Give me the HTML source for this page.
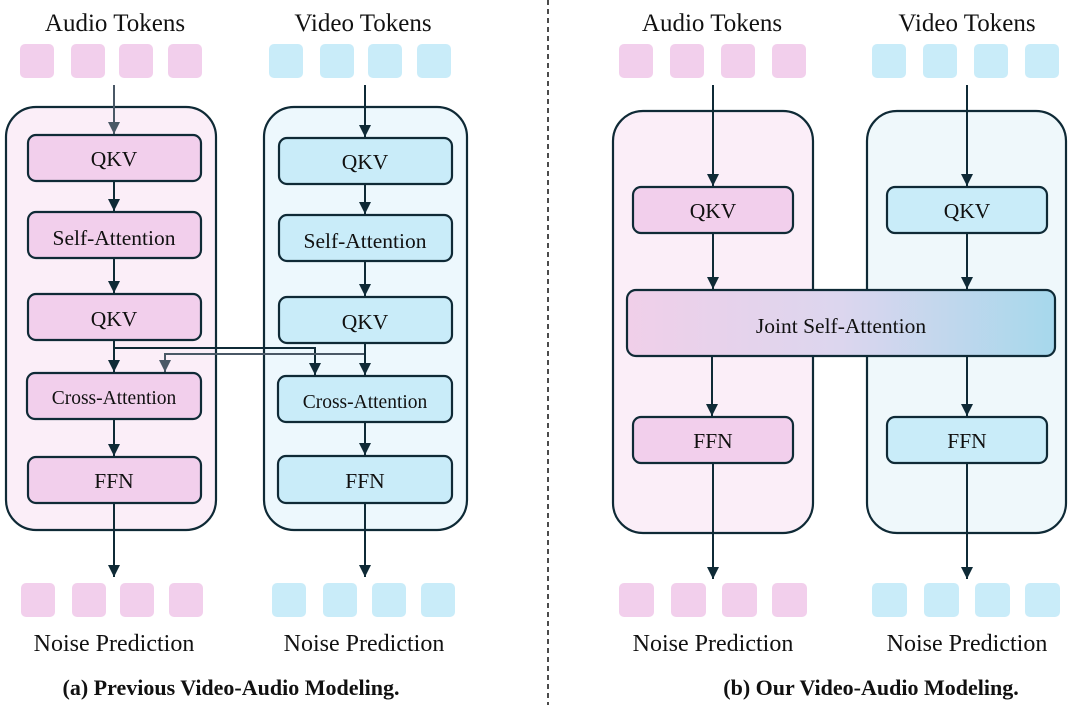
<!DOCTYPE html>
<html><head><meta charset="utf-8"><style>
html,body{margin:0;padding:0;background:#fff;}
svg{display:block;}
text{font-family:"Liberation Serif",serif;fill:#111;}
</style></head><body>
<svg width="1080" height="705" viewBox="0 0 1080 705" xmlns="http://www.w3.org/2000/svg">
<defs>
<marker id="ah" viewBox="0 0 10 10" refX="10" refY="5" markerWidth="13" markerHeight="12" orient="auto" markerUnits="userSpaceOnUse">
<path d="M0,0 L10,5 L0,10 z" fill="#0f2a36"/></marker>
<marker id="ahg" viewBox="0 0 10 10" refX="10" refY="5" markerWidth="13" markerHeight="12" orient="auto" markerUnits="userSpaceOnUse">
<path d="M0,0 L10,5 L0,10 z" fill="#4a5866"/></marker>
<linearGradient id="jg" x1="0" x2="1" y1="0" y2="0">
<stop offset="0" stop-color="#f0cfe9"/><stop offset="0.5" stop-color="#dcd6ee"/><stop offset="1" stop-color="#a6d8ec"/></linearGradient>
</defs>
<g stroke="#0f2a36" stroke-width="2.2">
<rect x="6" y="107" width="210" height="423" rx="30" fill="#fbeef8"/>
<rect x="264" y="107" width="203" height="423" rx="30" fill="#edf8fd"/>
<rect x="613" y="111" width="200" height="422" rx="30" fill="#fbeef8"/>
<rect x="867" y="111" width="199" height="422" rx="30" fill="#eff8fb"/>
</g>
<line x1="548" y1="0" x2="548" y2="705" stroke="#111" stroke-width="1.5" stroke-dasharray="5,4"/>
<g fill="#f2cfec">
<rect x="20" y="44" width="34" height="34" rx="5"/><rect x="71" y="44" width="34" height="34" rx="5"/><rect x="119" y="44" width="34" height="34" rx="5"/><rect x="168" y="44" width="34" height="34" rx="5"/>
<rect x="21" y="583" width="34" height="34" rx="5"/><rect x="72" y="583" width="34" height="34" rx="5"/><rect x="120" y="583" width="34" height="34" rx="5"/><rect x="169" y="583" width="34" height="34" rx="5"/>
<rect x="619" y="44" width="34" height="34" rx="5"/><rect x="670" y="44" width="34" height="34" rx="5"/><rect x="721" y="44" width="34" height="34" rx="5"/><rect x="772" y="44" width="34" height="34" rx="5"/>
<rect x="619" y="583" width="35" height="34" rx="5"/><rect x="671" y="583" width="35" height="34" rx="5"/><rect x="722" y="583" width="35" height="34" rx="5"/><rect x="772" y="583" width="35" height="34" rx="5"/>
</g>
<g fill="#c9ecf9">
<rect x="269" y="44" width="34" height="34" rx="5"/><rect x="320" y="44" width="34" height="34" rx="5"/><rect x="368" y="44" width="34" height="34" rx="5"/><rect x="417" y="44" width="34" height="34" rx="5"/>
<rect x="272" y="583" width="34" height="34" rx="5"/><rect x="323" y="583" width="34" height="34" rx="5"/><rect x="372" y="583" width="34" height="34" rx="5"/><rect x="421" y="583" width="34" height="34" rx="5"/>
<rect x="872" y="44" width="34" height="34" rx="5"/><rect x="923" y="44" width="34" height="34" rx="5"/><rect x="974" y="44" width="34" height="34" rx="5"/><rect x="1025" y="44" width="34" height="34" rx="5"/>
<rect x="872" y="583" width="35" height="34" rx="5"/><rect x="924" y="583" width="35" height="34" rx="5"/><rect x="975" y="583" width="35" height="34" rx="5"/><rect x="1025" y="583" width="35" height="34" rx="5"/>
</g>
<g stroke="#0f2a36" stroke-width="2" fill="none">
<line x1="114" y1="85" x2="114" y2="134" stroke="#4a5866" marker-end="url(#ahg)"/>
<line x1="114" y1="181" x2="114" y2="211" marker-end="url(#ah)"/>
<line x1="114" y1="258" x2="114" y2="293" marker-end="url(#ah)"/>
<line x1="114" y1="340" x2="114" y2="372" marker-end="url(#ah)"/>
<line x1="114" y1="419" x2="114" y2="456" marker-end="url(#ah)"/>
<line x1="114" y1="503" x2="114" y2="577" marker-end="url(#ah)"/>
<polyline points="114,348 315,348 315,375" marker-end="url(#ah)"/>
<polyline points="365,354 165,354 165,372" stroke="#4a5866" marker-end="url(#ahg)"/>
<line x1="365" y1="85" x2="365" y2="137" marker-end="url(#ah)"/>
<line x1="365" y1="184" x2="365" y2="214" marker-end="url(#ah)"/>
<line x1="365" y1="261" x2="365" y2="296" marker-end="url(#ah)"/>
<line x1="365" y1="343" x2="365" y2="375" marker-end="url(#ah)"/>
<line x1="365" y1="422" x2="365" y2="455" marker-end="url(#ah)"/>
<line x1="365" y1="503" x2="365" y2="577" marker-end="url(#ah)"/>
<line x1="713" y1="85" x2="713" y2="186" marker-end="url(#ah)"/>
<line x1="713" y1="233" x2="713" y2="289" marker-end="url(#ah)"/>
<line x1="712" y1="356" x2="712" y2="416" marker-end="url(#ah)"/>
<line x1="713" y1="463" x2="713" y2="579" marker-end="url(#ah)"/>
<line x1="967" y1="85" x2="967" y2="186" marker-end="url(#ah)"/>
<line x1="967" y1="233" x2="967" y2="289" marker-end="url(#ah)"/>
<line x1="967" y1="356" x2="967" y2="416" marker-end="url(#ah)"/>
<line x1="967" y1="463" x2="967" y2="579" marker-end="url(#ah)"/>
</g>
<g stroke="#0f2a36" stroke-width="2.2">
<g fill="#f2cfec">
<rect x="28" y="135" width="173" height="46" rx="8"/>
<rect x="28" y="212" width="173" height="46" rx="8"/>
<rect x="28" y="294" width="173" height="46" rx="8"/>
<rect x="27" y="373" width="174" height="46" rx="8"/>
<rect x="28" y="457" width="173" height="46" rx="8"/>
<rect x="633" y="187" width="160" height="46" rx="8"/>
<rect x="633" y="417" width="160" height="46" rx="8"/>
</g>
<g fill="#c9ecf9">
<rect x="279" y="138" width="173" height="46" rx="8"/>
<rect x="279" y="215" width="173" height="46" rx="8"/>
<rect x="279" y="297" width="173" height="46" rx="8"/>
<rect x="278" y="376" width="174" height="46" rx="8"/>
<rect x="278" y="456" width="174" height="47" rx="8"/>
<rect x="887" y="187" width="160" height="46" rx="8"/>
<rect x="887" y="417" width="160" height="46" rx="8"/>
</g>
<rect x="627" y="290" width="428" height="66" rx="9" fill="url(#jg)"/>
</g>
<g font-size="25" text-anchor="middle">
<text x="115" y="31">Audio Tokens</text>
<text x="363" y="31">Video Tokens</text>
<text x="712" y="31">Audio Tokens</text>
<text x="967" y="31">Video Tokens</text>
</g>
<g font-size="24" text-anchor="middle">
<text x="114" y="651">Noise Prediction</text>
<text x="364" y="651">Noise Prediction</text>
<text x="713" y="651">Noise Prediction</text>
<text x="967" y="651">Noise Prediction</text>
</g>
<g font-size="21.5" text-anchor="middle">
<text x="114" y="166">QKV</text>
<text x="114" y="245">Self-Attention</text>
<text x="114" y="326">QKV</text>
<text x="114" y="404" font-size="19.5">Cross-Attention</text>
<text x="114" y="488">FFN</text>
<text x="365" y="169">QKV</text>
<text x="365" y="248">Self-Attention</text>
<text x="365" y="329">QKV</text>
<text x="365" y="408" font-size="19.5">Cross-Attention</text>
<text x="365" y="488">FFN</text>
<text x="713" y="218">QKV</text>
<text x="713" y="448">FFN</text>
<text x="967" y="218">QKV</text>
<text x="967" y="448">FFN</text>
<text x="841" y="333">Joint Self-Attention</text>
</g>
<g font-size="22" font-weight="bold" text-anchor="middle">
<text x="231" y="695">(a) Previous Video-Audio Modeling.</text>
<text x="871" y="695">(b) Our Video-Audio Modeling.</text>
</g>
</svg>
</body></html>
